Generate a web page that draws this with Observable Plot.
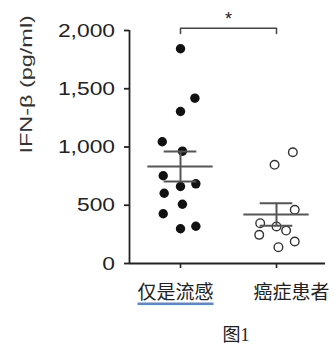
<!DOCTYPE html>
<html><head><meta charset="utf-8">
<script src="https://cdn.jsdelivr.net/npm/d3@7"></script>
<script src="https://cdn.jsdelivr.net/npm/@observablehq/plot@0.6"></script>
<style>
html,body{margin:0;padding:0;background:#fff;}
#wrap{position:relative;width:334px;height:348px;overflow:hidden;}
#cap{position:absolute;left:0;width:472px;top:325px;text-align:center;font-family:"Liberation Serif","Noto Sans CJK SC",serif;font-size:18px;color:#222;line-height:20px;}
</style></head><body>
<div id="wrap"><div id="chart"></div><div id="cap"></div></div>
<script>
// ---- data ----
const categories = ["仅是流感", "癌症患者"];
const fluOnly = [1843, 1419, 1305, 1045, 964, 753, 684, 661, 603, 509, 427, 298, 320];
const fluOnlyJitter = [0, 0.15, 0, -0.19, 0.02, -0.18, 0.16, 0, -0.17, 0.02, -0.18, 0, 0.16];
const cancer = [955, 847, 461, 346, 318, 283, 246, 189, 140];
const cancerJitter = [0.17, -0.02, 0.19, -0.17, 0, 0.10, -0.18, 0.19, 0.02];
const yTicks = [0, 500, 1000, 1500, 2000];
const yLabel = "IFN-β (pg/ml)";
const significance = [{from: 0, to: 1, level: 2020, label: "*"}];
const caption = "图1";

// ---- derived tables ----
const groups = [fluOnly, cancer];
const jitters = [fluOnlyJitter, cancerJitter];
const points = groups.flatMap((vals, g) => vals.map((v, i) => ({g, v, j: jitters[g][i]})));
const stats = groups.map((vals, g) => {
  const m = d3.mean(vals);
  const sem = d3.deviation(vals) / Math.sqrt(vals.length);
  return {g, mean: m, sem};
});
const bracket = significance.flatMap(s => [
  {x: s.from, y: s.level - 45}, {x: s.from, y: s.level},
  {x: s.to, y: s.level}, {x: s.to, y: s.level - 45}
]);
const xDomain = [-0.53125, 1.5104];
const ink = "#222";
const lineInk = "#555";

const chart = Plot.plot({
  width: 334, height: 318,
  marginLeft: 129, marginRight: 9, marginTop: 30, marginBottom: 55,
  x: {domain: xDomain},
  y: {domain: [0, 2000]},
  style: {background: "white", color: ink, fontFamily: "'Liberation Sans', Arial, sans-serif", overflow: "visible"},
  marks: [
    Plot.ruleY([0], {stroke: ink, strokeWidth: 1.8}),
    Plot.ruleX([xDomain[0]], {stroke: ink, strokeWidth: 1.8}),
    Plot.axisY({ticks: yTicks, tickSize: 5, tickPadding: 9.5, fontSize: 19, label: null, strokeWidth: 1.8, tickFormat: d3.format(",")}),
    Plot.axisX({ticks: [0, 1], tickSize: 5, tickFormat: () => "", label: null, strokeWidth: 1.6}),
    Plot.text([yLabel], {frameAnchor: "left", rotate: -90, dx: -103, dy: 6.5, fontSize: 16.5, fill: "#333"}),
    Plot.text([categories[0]], {x: () => 0, frameAnchor: "bottom", dy: 35, dx: -5, fontSize: 19, fontFamily: "'Noto Sans CJK SC', sans-serif", fill: ink}),
    Plot.text([categories[1]], {x: () => 1, frameAnchor: "bottom", dy: 35, dx: 15, fontSize: 19, fontFamily: "'Noto Sans CJK SC', sans-serif", fill: ink}),
    Plot.dot(points.filter(d => d.g === 0), {x: d => d.g + d.j, y: "v", r: 4.7, fill: "#111", stroke: "none"}),
    Plot.dot(points.filter(d => d.g === 1), {x: d => d.g + d.j, y: "v", r: 4.3, fill: "white", stroke: "#333", strokeWidth: 1.4}),
    Plot.ruleY(stats, {y: "mean", x1: d => d.g - 0.34, x2: d => d.g + 0.34, stroke: lineInk, strokeWidth: 2}),
    Plot.ruleY(stats, {y: d => d.mean + d.sem, x1: d => d.g - 0.17, x2: d => d.g + 0.17, stroke: lineInk, strokeWidth: 2}),
    Plot.ruleY(stats, {y: d => d.mean - d.sem, x1: d => d.g - 0.17, x2: d => d.g + 0.17, stroke: lineInk, strokeWidth: 2}),
    Plot.ruleX(stats, {x: "g", y1: d => d.mean - d.sem, y2: d => d.mean + d.sem, stroke: lineInk, strokeWidth: 2}),
    Plot.line(bracket, {x: "x", y: "y", stroke: "#444", strokeWidth: 1.5}),
    Plot.text(significance, {x: d => (d.from + d.to) / 2, y: "level", text: "label", dy: -9, fontSize: 18, fill: ink})
  ]
});
document.getElementById("chart").appendChild(chart);
document.getElementById("cap").textContent = caption;

// widen the sans-serif labels like the reference; blue link underline under first label
chart.querySelectorAll("text").forEach(t => {
  const s = t.textContent;
  let k = null;
  if (s === yLabel) k = 1.42;
  else if (/^[\d,]+$/.test(s)) k = 1.2;
  if (k) {
    const w = t.getComputedTextLength();
    t.setAttribute("textLength", (w * k).toFixed(1));
    t.setAttribute("lengthAdjust", "spacingAndGlyphs");
  }
  if (s === categories[0]) {
    const b = t.getBBox();
    const ctm = t.getCTM();
    const u = document.createElementNS("http://www.w3.org/2000/svg", "rect");
    u.setAttribute("x", (b.x + ctm.e).toFixed(1));
    u.setAttribute("y", (b.y + b.height + ctm.f - 1).toFixed(1));
    u.setAttribute("width", b.width.toFixed(1));
    u.setAttribute("height", "2.5");
    u.setAttribute("fill", "#5b86d6");
    chart.appendChild(u);
  }
});
</script>
</body></html>
